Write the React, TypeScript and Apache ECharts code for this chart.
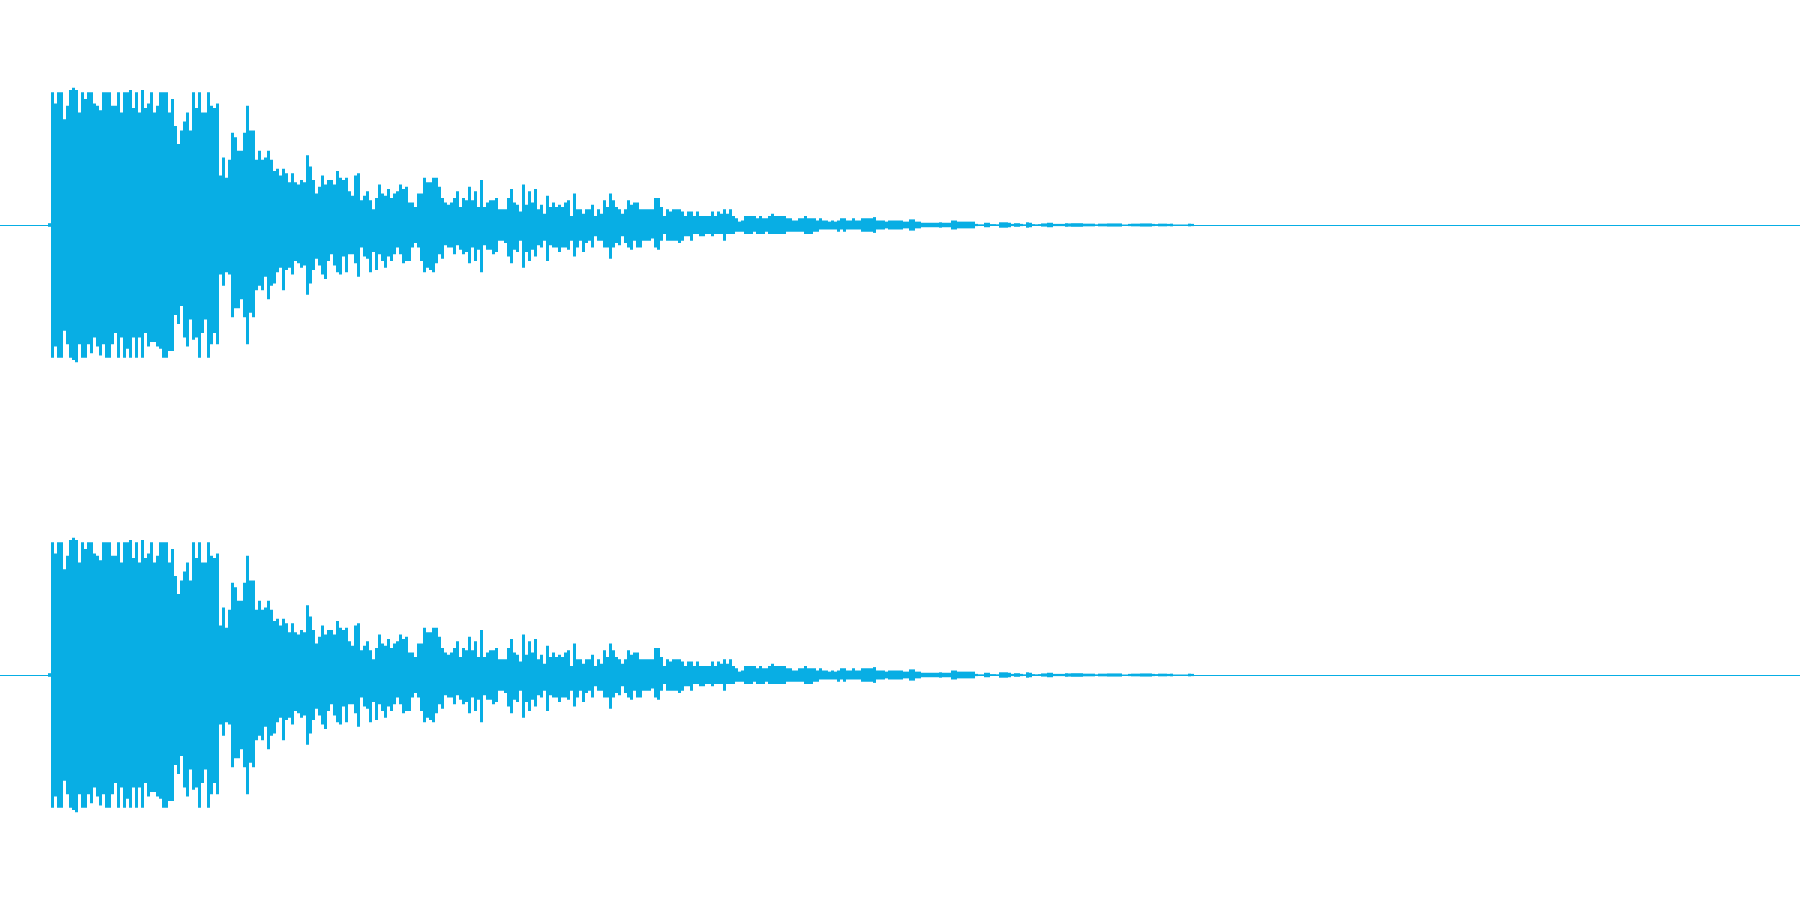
import React, { useEffect, useRef } from "react";
import * as echarts from "echarts";

// Waveform envelope, one value per 3-pixel column bin (amplitude range -1..1).
// Bin index starts at LEAD_INDEX.
const LEAD_INDEX = -1;
const leadLevel = [0.008];

const peakHigh = [
  0.59,0.54,0.59,0.59,0.47,0.53,0.60,0.61,0.60,0.50,
  0.59,0.56,0.59,0.59,0.54,0.53,0.51,0.59,0.59,0.59,
  0.53,0.53,0.59,0.50,0.59,0.59,0.60,0.52,0.59,0.50,
  0.60,0.52,0.54,0.59,0.50,0.53,0.59,0.59,0.59,0.50,
  0.56,0.44,0.36,0.42,0.46,0.50,0.42,0.59,0.52,0.59,
  0.50,0.50,0.59,0.53,0.52,0.54,0.22,0.30,0.21,0.29,
  0.41,0.39,0.33,0.33,0.41,0.53,0.42,0.42,0.29,0.33,
  0.29,0.30,0.33,0.29,0.24,0.25,0.22,0.25,0.23,0.19,
  0.23,0.19,0.18,0.20,
  0.19,0.31,0.26,0.20,0.14,0.17,0.22,0.18,0.20,0.20,
  0.18,0.24,0.21,0.20,0.21,0.15,0.13,0.22,0.23,0.11,
  0.13,0.15,0.11,0.07,0.12,0.18,0.14,0.13,0.16,0.12,
  0.14,0.15,0.18,0.16,0.17,0.10,0.10,0.08,0.14,0.14,
  0.21,0.19,0.19,0.21,0.21,0.17,0.12,0.10,0.09,0.10,
  0.12,0.15,0.08,0.12,0.11,0.17,0.11,0.15,0.08,0.20,
  0.08,0.10,0.11,0.11,0.12,0.07,0.07,0.07,0.12,0.16,
  0.10,0.09,0.06,0.18,0.09,0.15,0.10,0.16,0.07,0.09,
  0.05,0.13,0.08,0.10,0.08,0.09,0.08,0.10,0.11,0.04,
  0.14,0.07,0.07,
  0.05,0.07,0.07,0.09,0.04,0.07,0.05,0.11,0.08,0.14,
  0.11,0.08,0.07,0.05,0.07,0.11,0.09,0.10,0.10,0.07,
  0.07,0.07,0.07,0.07,0.12,0.12,0.08,0.04,0.07,0.06,
  0.07,0.07,0.07,0.06,0.04,0.06,0.06,0.04,0.06,0.04,
  0.04,0.04,0.04,0.06,0.04,0.06,0.05,0.07,0.05,0.07,
  0.04,0.03,0.015,0.02,0.04,0.04,0.04,0.04,0.03,0.04,
  0.03,0.03,0.04,0.05,0.04,0.04,0.04,0.04,0.03,0.03,
  0.02,0.02,0.03,0.03,0.04,0.03,0.03,0.03,0.02,0.03,
  0.02,0.02,0.015,0.02,0.015,0.02,0.03,0.03,0.02,0.02,
  0.03,0.02,0.02,
];

const peakLow = [
  -0.59,-0.54,-0.59,-0.59,-0.47,-0.53,-0.59,-0.60,-0.61,-0.53,
  -0.59,-0.59,-0.53,-0.57,-0.50,-0.54,-0.58,-0.53,-0.59,-0.59,
  -0.53,-0.48,-0.59,-0.50,-0.59,-0.55,-0.59,-0.50,-0.59,-0.50,
  -0.59,-0.48,-0.54,-0.52,-0.52,-0.54,-0.55,-0.59,-0.59,-0.56,
  -0.56,-0.40,-0.44,-0.36,-0.50,-0.54,-0.42,-0.51,-0.50,-0.59,
  -0.48,-0.42,-0.59,-0.53,-0.48,-0.53,-0.22,-0.27,-0.21,-0.22,
  -0.41,-0.37,-0.37,-0.33,-0.41,-0.53,-0.39,-0.41,-0.29,-0.27,
  -0.29,-0.23,-0.33,-0.27,-0.26,-0.21,-0.19,-0.29,-0.20,-0.19,
  -0.22,-0.16,-0.17,-0.19,
  -0.18,-0.31,-0.26,-0.20,-0.15,-0.18,-0.22,-0.24,-0.16,-0.13,
  -0.18,-0.21,-0.22,-0.14,-0.21,-0.13,-0.13,-0.17,-0.23,-0.10,
  -0.14,-0.15,-0.21,-0.12,-0.20,-0.13,-0.16,-0.19,-0.14,-0.16,
  -0.13,-0.10,-0.13,-0.17,-0.16,-0.16,-0.10,-0.08,-0.10,-0.16,
  -0.21,-0.19,-0.20,-0.21,-0.17,-0.13,-0.15,-0.09,-0.10,-0.10,
  -0.13,-0.09,-0.11,-0.13,-0.12,-0.17,-0.10,-0.16,-0.11,-0.21,
  -0.09,-0.11,-0.11,-0.13,-0.12,-0.07,-0.07,-0.08,-0.14,-0.17,
  -0.11,-0.12,-0.07,-0.19,-0.12,-0.16,-0.11,-0.14,-0.09,-0.10,
  -0.07,-0.16,-0.09,-0.10,-0.10,-0.12,-0.10,-0.10,-0.11,-0.07,
  -0.14,-0.10,-0.07,
  -0.12,-0.08,-0.07,-0.10,-0.05,-0.07,-0.07,-0.10,-0.10,-0.15,
  -0.10,-0.08,-0.09,-0.05,-0.08,-0.10,-0.11,-0.07,-0.10,-0.10,
  -0.07,-0.07,-0.07,-0.06,-0.10,-0.11,-0.07,-0.04,-0.07,-0.07,
  -0.07,-0.07,-0.08,-0.07,-0.05,-0.05,-0.07,-0.04,-0.04,-0.05,
  -0.05,-0.04,-0.04,-0.05,-0.04,-0.04,-0.04,-0.07,-0.04,-0.04,
  -0.04,-0.03,-0.03,-0.03,-0.04,-0.04,-0.04,-0.03,-0.04,-0.04,
  -0.04,-0.03,-0.04,-0.04,-0.04,-0.04,-0.04,-0.04,-0.03,-0.03,
  -0.03,-0.03,-0.03,-0.03,-0.04,-0.04,-0.04,-0.03,-0.03,-0.02,
  -0.02,-0.02,-0.02,-0.02,-0.02,-0.03,-0.02,-0.03,-0.02,-0.02,
  -0.02,-0.02,-0.02,
];

// Quiet decay tail (symmetric around zero)
const tailLevel = [
  0.03,0.03,0.03,0.03,0.035,0.02,0.02,0.02,0.015,0.02,
  0.02,0.02,0.02,0.02,0.015,0.015,0.025,0.025,0.015,0.015,
  0.01,0.01,0.01,0.01,0.01,0.01,0.012,0.01,0.01,0.01,
  0.02,0.02,0.015,0.015,0.015,0.015,0.015,0.015,0.005,0.003,
  0.003,0.01,0.01,0.004,0.004,0.003,0.012,0.012,0.012,0.01,
  0.005,0.008,0.008,0.005,0.003,0.012,0.01,0.004,0.003,0.004,
  0.007,0.007,0.01,0.01,0.005,0.005,0.005,0.005,0.008,0.007,
  0.008,0.008,0.008,0.008,0.006,0.006,0.006,0.006,0.003,0.006,
  0.006,0.006,0.007,0.007,0.007,0.007,0.007,0.002,0.002,0.005,
  0.006,0.006,0.006,0.007,0.007,0.007,0.007,0.005,0.004,0.006,
  0.006,0.006,0.005,0.006,0.002,0.002,0.002,0.002,0.002,0.006,
  0.005,
];

const CHANNELS = ["Left", "Right"];
const WAVE_COLOR = "#08aee4";

function buildData(): number[][] {
  const out: number[][] = [];
  let idx = LEAD_INDEX;
  leadLevel.forEach((v) => out.push([idx++, v, -v]));
  peakHigh.forEach((v, k) => out.push([idx++, v, peakLow[k]]));
  tailLevel.forEach((v) => out.push([idx++, v, -v]));
  return out;
}

export default function App() {
  const ref = useRef<HTMLDivElement>(null);
  useEffect(() => {
    if (!ref.current) return;
    const chart = echarts.init(ref.current, undefined, { renderer: "svg" });
    const data = buildData();
    const renderItem = (params: any, api: any) => {
      const i = api.value(0);
      const hi = api.value(1);
      const lo = api.value(2);
      const p1 = api.coord([i, hi]);
      const p2 = api.coord([i + 1, lo]);
      let y = p1[1];
      let h = p2[1] - p1[1];
      if (h < 1) {
        y = (p1[1] + p2[1]) / 2 - 0.5;
        h = 1;
      }
      return {
        type: "rect",
        shape: { x: p1[0], y, width: p2[0] - p1[0], height: h },
        style: { fill: WAVE_COLOR },
      };
    };
    const grids = CHANNELS.map((_, c) => ({
      left: 0,
      width: 1800,
      top: c * 450,
      height: 450,
      containLabel: false,
    }));
    const xAxes = CHANNELS.map((_, c) => ({
      type: "value",
      gridIndex: c,
      min: -17,
      max: 583,
      show: false,
    }));
    const yAxes = CHANNELS.map((_, c) => ({
      type: "value",
      gridIndex: c,
      min: -1,
      max: 1,
      show: false,
    }));
    const series = CHANNELS.map((name, c) => ({
      type: "custom",
      name,
      xAxisIndex: c,
      yAxisIndex: c,
      data,
      renderItem,
      encode: { x: 0, y: [1, 2] },
      silent: true,
      markLine: {
        silent: true,
        symbol: ["none", "none"],
        label: { show: false },
        lineStyle: { color: WAVE_COLOR, width: 1, type: "solid" },
        data: [{ yAxis: 0 }],
      },
    }));
    chart.setOption({
      animation: false,
      backgroundColor: "#ffffff",
      grid: grids,
      xAxis: xAxes,
      yAxis: yAxes,
      series,
    });
    return () => chart.dispose();
  }, []);
  return (
    <div
      ref={ref}
      style={{ position: "absolute", left: 0, top: 0, width: 1800, height: 900 }}
    />
  );
}
